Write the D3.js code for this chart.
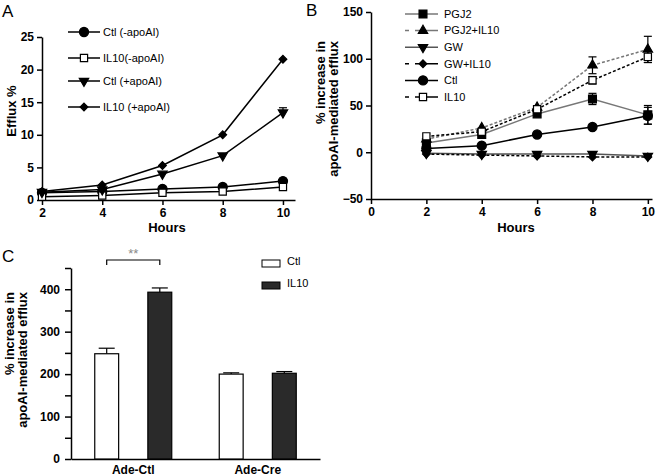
<!DOCTYPE html>
<html><head><meta charset="utf-8">
<script src="https://cdn.jsdelivr.net/npm/d3@7"></script>
<style>
body{margin:0;background:#fff;}
text{font-family:"Liberation Sans",Arial,sans-serif;}
</style></head><body>
<svg id="c" width="656" height="476"></svg>
<script>
// ---------- Panel A data ----------
const hoursA = [2, 4, 6, 8, 10];
const namesA = ["Ctl (-apoAI)", "IL10(-apoAI)", "Ctl (+apoAI)", "IL10 (+apoAI)"];
const ctlMinus = [1.1, 1.3, 1.7, 2.0, 2.9];
const il10Minus = [0.5, 0.7, 1.1, 1.3, 2.0];
const ctlPlus = [1.2, 1.6, 4.0, 6.8, 13.4];
const il10Plus = [1.3, 2.3, 5.3, 10.0, 21.6];
const errA = [0.2, 0.2, 0.3, 0.3, 0.5];
const ticksAx = [2, 4, 6, 8, 10];
const ticksAy = [0, 5, 10, 15, 20, 25];

// ---------- Panel B data ----------
const hoursB = [2, 4, 6, 8, 10];
const namesB = ["PGJ2", "PGJ2+IL10", "GW", "GW+IL10", "Ctl", "IL10"];
const pgj2 = [10, 19, 41, 57, 40];
const pgj2Err = [2, 3, 3, 6, 10];
const pgj2il10 = [14, 26, 48, 93, 110];
const pgj2il10Err = [2, 3, 3, 9, 14];
const gw = [-1, -2, -2, -2, -4];
const gwErr = [1, 1, 1, 2, 2];
const gwil10 = [-2, -3, -4, -5, -5];
const gwil10Err = [1, 1, 1, 1, 2];
const ctlB = [4, 7, 19, 27, 39];
const ctlBErr = [1, 1, 2, 2, 9];
const il10B = [17, 22, 46, 77, 102];
const il10BErr = [2, 2, 3, 4, 6];
const ticksBx = [0, 2, 4, 6, 8, 10];
const ticksBy = [-50, 0, 50, 100, 150];

// ---------- Panel C data ----------
const groupsC = ["Ade-Ctl", "Ade-Cre"];
const treatC = ["Ctl", "IL10"];
const ctlC = [248, 200];
const ctlCErr = [13, 3];
const il10C = [393, 202];
const il10CErr = [10, 4];
const ticksCy = [0, 100, 200, 300, 400];

const svg = d3.select("#c");
const font = '"Liberation Sans",Arial,sans-serif';

function drawMarker(g, x, y, m) {
  return g.append("path").attr("transform", `translate(${x},${y})${m.rot ? " rotate(180)" : ""}`)
    .attr("d", d3.symbol().type(m.type).size(m.size)())
    .attr("fill", m.fill).attr("stroke", "#000").attr("stroke-width", 1.2);
}
function styleAxis(ax) {
  ax.selectAll("path,line").attr("stroke", "#000").attr("stroke-width", 1.5);
  ax.selectAll("text").attr("font-weight", "bold").attr("font-size", 12).attr("font-family", font).attr("fill", "#000");
}
function yTitle(g, x, top, txt) {
  g.append("text").attr("transform", `translate(${x},${top}) rotate(-90)`).attr("text-anchor", "end")
    .attr("font-weight", "bold").attr("font-size", 13).text(txt);
}
const mk = {
  circle: {type: d3.symbolCircle, size: 66, fill: "#000"},
  fsquare: {type: d3.symbolSquare, size: 62, fill: "#000"},
  osquare: {type: d3.symbolSquare, size: 52, fill: "#fff"},
  tri: {type: d3.symbolTriangle, size: 38, fill: "#000"},
  dtri: {type: d3.symbolTriangle, size: 38, fill: "#000", rot: true},
  diam: {type: d3.symbolDiamond2, size: 38, fill: "#000"}
};

// ================= Panel A =================
{
  const x = d3.scaleLinear().domain([2, 10.4]).range([42, 295]);
  const y = d3.scaleLinear().domain([0, 25]).range([200, 37]);
  const g = svg.append("g");
  const xa = g.append("g").attr("transform", "translate(0,200)")
    .call(d3.axisBottom(x).tickValues(ticksAx).tickSize(5).tickSizeOuter(0));
  styleAxis(xa);
  const ya = g.append("g").attr("transform", "translate(42,0)")
    .call(d3.axisLeft(y).tickValues(ticksAy).tickSize(5).tickSizeOuter(0));
  styleAxis(ya);
  g.append("text").attr("x", 167).attr("y", 232).attr("text-anchor", "middle")
    .attr("font-weight", "bold").attr("font-size", 13).text("Hours");
  g.append("text").attr("transform", "translate(16,111) rotate(-90)").attr("text-anchor", "middle")
    .attr("font-weight", "bold").attr("font-size", 13).text("Efflux %");
  svg.append("text").attr("x", 2).attr("y", 17).attr("font-size", 17).text("A");

  const series = [
    {name: namesA[0], v: ctlMinus, m: mk.circle},
    {name: namesA[1], v: il10Minus, m: mk.osquare},
    {name: namesA[2], v: ctlPlus, m: mk.dtri},
    {name: namesA[3], v: il10Plus, m: mk.diam}
  ];
  const line = d3.line().x((d, i) => x(hoursA[i])).y(d => y(d));
  series.forEach((s, k) => {
    g.append("path").attr("d", line(s.v)).attr("fill", "none").attr("stroke", "#000").attr("stroke-width", 1.5);
    s.v.forEach((v, i) => {
      if (k === 2 && i === 4) {
        const top = y(v + errA[i] * 1.5), bot = y(v - errA[i] * 1.5);
        g.append("line").attr("x1", x(10)).attr("x2", x(10)).attr("y1", top).attr("y2", bot).attr("stroke", "#000").attr("stroke-width", 1.2);
        g.append("line").attr("x1", x(10) - 4).attr("x2", x(10) + 4).attr("y1", top).attr("y2", top).attr("stroke", "#000").attr("stroke-width", 1.2);
      }
      drawMarker(g, x(hoursA[i]), y(v), s.m);
    });
    const ly = [32, 58, 81, 107][k];
    g.append("line").attr("x1", 68).attr("x2", 100).attr("y1", ly).attr("y2", ly).attr("stroke", "#000").attr("stroke-width", 1.5);
    drawMarker(g, 84, ly, s.m);
    g.append("text").attr("x", 103).attr("y", ly).attr("dy", "0.35em").attr("font-size", 11).text(s.name);
  });
}

// ================= Panel B =================
{
  const x = d3.scaleLinear().domain([0, 10.15]).range([371, 652]);
  const y = d3.scaleLinear().domain([-50, 150]).range([199, 12]);
  const g = svg.append("g");
  const xa = g.append("g").attr("transform", "translate(0,199)")
    .call(d3.axisBottom(x).tickValues(ticksBx).tickSize(5).tickSizeOuter(0));
  styleAxis(xa);
  const ya = g.append("g").attr("transform", "translate(371,0)")
    .call(d3.axisLeft(y).tickValues(ticksBy).tickSize(5).tickSizeOuter(0));
  styleAxis(ya);
  g.append("text").attr("x", 516).attr("y", 232).attr("text-anchor", "middle")
    .attr("font-weight", "bold").attr("font-size", 13).text("Hours");
  yTitle(g, 325, 41, "% increase in");
  yTitle(g, 338, 41, "apoAI-mediated efflux");
  svg.append("text").attr("x", 306).attr("y", 16).attr("font-size", 17).text("B");

  const series = [
    {name: namesB[0], v: pgj2, e: pgj2Err, col: "#777", dash: null, m: mk.fsquare},
    {name: namesB[1], v: pgj2il10, e: pgj2il10Err, col: "#777", dash: "3,2", m: mk.tri},
    {name: namesB[2], v: gw, e: gwErr, col: "#555", dash: null, m: mk.dtri},
    {name: namesB[3], v: gwil10, e: gwil10Err, col: "#000", dash: "3,2", m: mk.diam},
    {name: namesB[4], v: ctlB, e: ctlBErr, col: "#000", dash: null, m: mk.circle},
    {name: namesB[5], v: il10B, e: il10BErr, col: "#000", dash: "3,2", m: mk.osquare}
  ];
  const line = d3.line().x((d, i) => x(hoursB[i])).y(d => y(d));
  series.forEach(s => {
    g.append("path").attr("d", line(s.v)).attr("fill", "none").attr("stroke", s.col).attr("stroke-width", 1.5)
      .attr("stroke-dasharray", s.dash);
  });
  series.forEach(s => {
    s.v.forEach((v, i) => {
      const cx = x(hoursB[i]);
      if (s.e[i] > 3) {
        [1, -1].forEach(sg => {
          const ey = y(v + sg * s.e[i]);
          g.append("line").attr("x1", cx).attr("x2", cx).attr("y1", y(v)).attr("y2", ey).attr("stroke", "#000").attr("stroke-width", 1.2);
          g.append("line").attr("x1", cx - 4).attr("x2", cx + 4).attr("y1", ey).attr("y2", ey).attr("stroke", "#000").attr("stroke-width", 1.2);
        });
      }
      drawMarker(g, cx, y(v), s.m);
    });
  });
  series.forEach((s, k) => {
    const ly = 14 + k * 16.6;
    g.append("line").attr("x1", 405).attr("x2", 438).attr("y1", ly).attr("y2", ly).attr("stroke", s.col).attr("stroke-width", 1.5)
      .attr("stroke-dasharray", s.dash ? "4,6,30" : null);
    drawMarker(g, 423, ly, s.m);
    g.append("text").attr("x", 444).attr("y", ly).attr("dy", "0.35em").attr("font-size", 11).text(s.name);
  });
}

// ================= Panel C =================
{
  const x0 = d3.scaleBand().domain(groupsC).range([71, 320]);
  const x1 = d3.scaleBand().domain(treatC).range([0, 77]).paddingInner(0.55).paddingOuter(0);
  const y = d3.scaleLinear().domain([0, 450]).range([459, 268]);
  const g = svg.append("g");
  const ya = g.append("g").attr("transform", "translate(71,0)")
    .call(d3.axisLeft(y).tickValues(d3.range(0, 451, 50)).tickSize(6).tickPadding(5).tickSizeOuter(0)
      .tickFormat(d => ticksCy.includes(d) ? d : ""));
  styleAxis(ya);
  const xa = g.append("g").attr("transform", "translate(0,459)")
    .call(d3.axisBottom(x0).tickSize(0).tickSizeOuter(0).tickPadding(6));
  styleAxis(xa);
  xa.selectAll("text").attr("font-size", 12);
  yTitle(g, 14, 292, "% increase in");
  yTitle(g, 27, 292, "apoAI-mediated efflux");
  svg.append("text").attr("x", 2).attr("y", 262).attr("font-size", 17).text("C");

  const vals = [ctlC, il10C], errs = [ctlCErr, il10CErr], fills = ["#fff", "#2a2a2a"];
  groupsC.forEach((gname, gi) => {
    const off = x0(gname) + (x0.bandwidth() - 77) / 2;
    treatC.forEach((t, ti) => {
      const bx = off + x1(t), bw = x1.bandwidth(), v = vals[ti][gi], e = errs[ti][gi];
      g.append("line").attr("x1", bx + bw / 2).attr("x2", bx + bw / 2).attr("y1", y(v)).attr("y2", y(v + e)).attr("stroke", "#000").attr("stroke-width", 1.2);
      g.append("line").attr("x1", bx + bw / 2 - 8).attr("x2", bx + bw / 2 + 8).attr("y1", y(v + e)).attr("y2", y(v + e)).attr("stroke", "#000").attr("stroke-width", 1.2);
      g.append("rect").attr("x", bx).attr("y", y(v)).attr("width", bw).attr("height", y(0) - y(v))
        .attr("fill", fills[ti]).attr("stroke", "#000").attr("stroke-width", 1.2);
    });
  });
  const off0 = x0(groupsC[0]) + (x0.bandwidth() - 77) / 2;
  const bl = off0 + x1(treatC[0]) + x1.bandwidth() / 2, br = off0 + x1(treatC[1]) + x1.bandwidth() / 2;
  g.append("path").attr("d", `M${bl},265V260H${br}V265`).attr("fill", "none").attr("stroke", "#000").attr("stroke-width", 1.2);
  g.append("text").attr("x", (bl + br) / 2).attr("y", 258).attr("text-anchor", "middle").attr("font-size", 13).attr("fill", "#888").text("**");

  treatC.forEach((t, ti) => {
    const ly = 263 + ti * 22;
    g.append("rect").attr("x", 262).attr("y", ly - 3).attr("width", 18).attr("height", 7).attr("fill", fills[ti]).attr("stroke", "#000").attr("stroke-width", 1);
    g.append("text").attr("x", 287).attr("y", ly - 2).attr("dy", "0.35em").attr("font-size", 11).text(t);
  });
}
</script>
</body></html>
